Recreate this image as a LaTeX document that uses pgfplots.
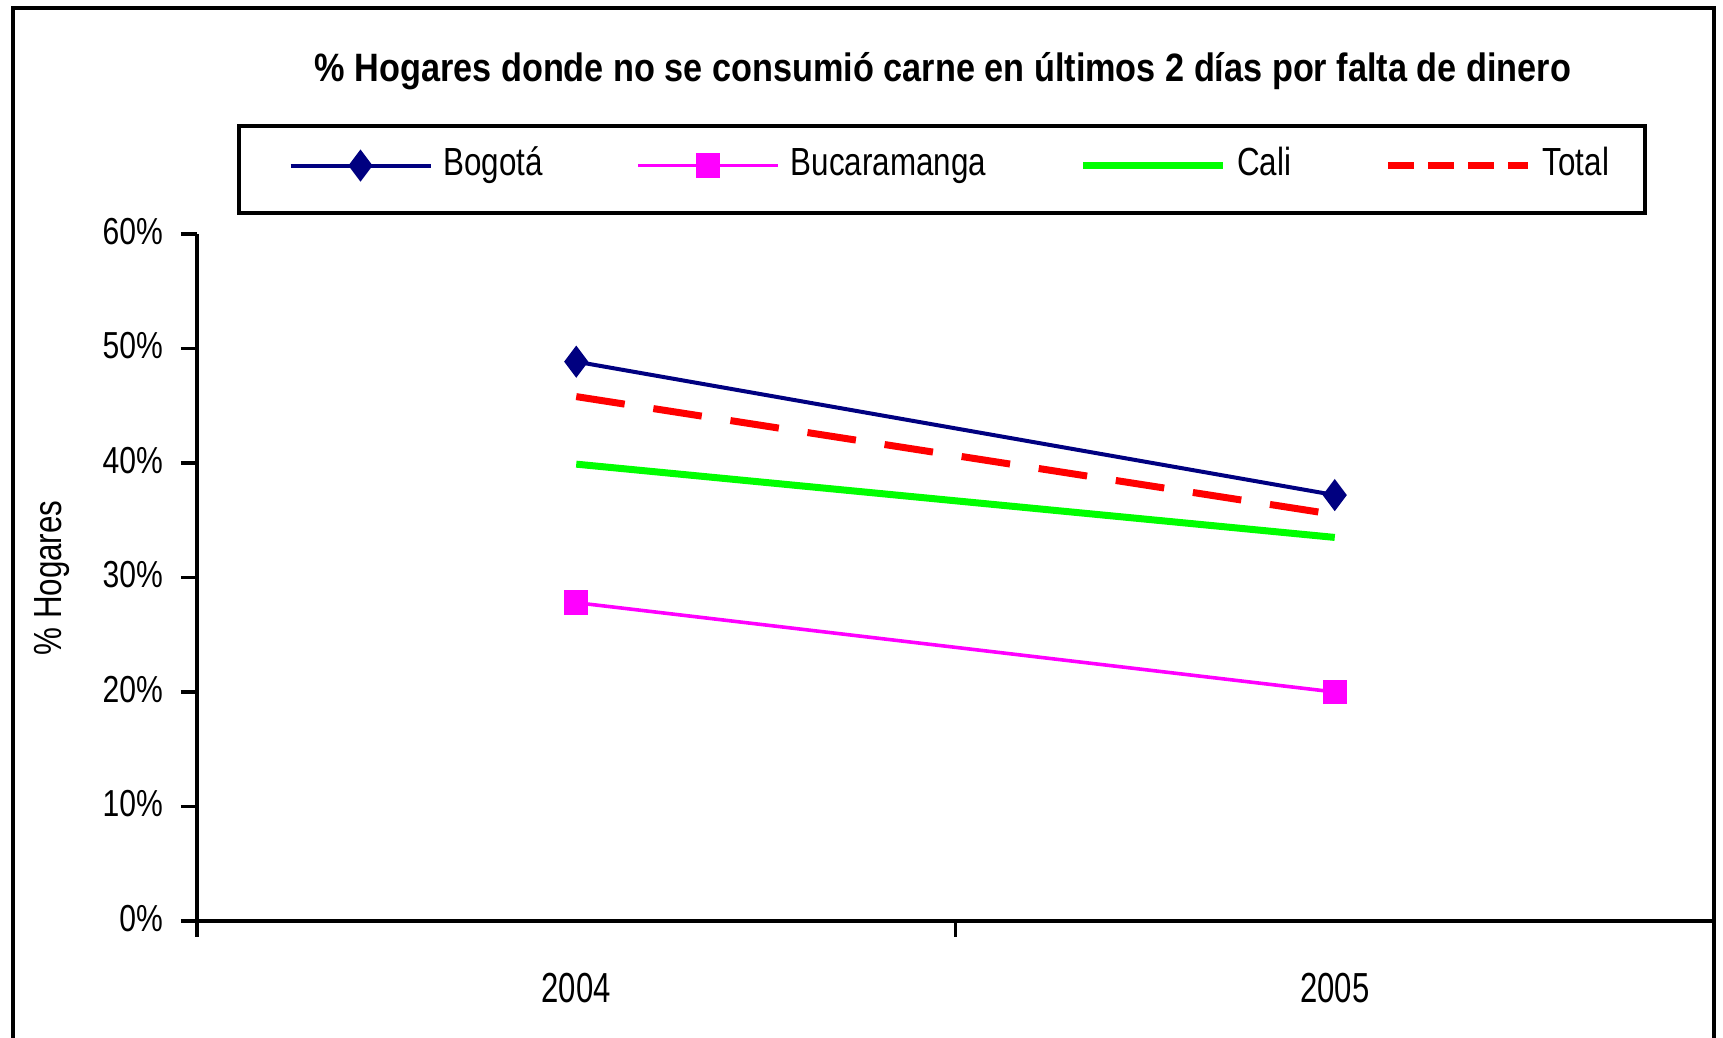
\documentclass[border=0pt]{standalone}
\usepackage{fontspec}
\usepackage{pgfplots}
\pgfplotsset{compat=1.18}
\setmainfont{Liberation Sans}
\newfontfamily\narrow[FakeStretch=0.8]{Liberation Sans}
\newfontfamily\narrowt[FakeStretch=0.865]{Liberation Sans}
\newfontfamily\narrowx[FakeStretch=0.74]{Liberation Sans}
\definecolor{bogota}{HTML}{000080}
\definecolor{buca}{HTML}{FF00FF}
\definecolor{cali}{HTML}{00FF00}
\definecolor{total}{HTML}{FF0000}

\begin{document}
\begin{tikzpicture}
\useasboundingbox (0,0) rectangle (430.75pt,259.5pt);
% chart frame
\draw[line width=0.9pt] (3.25pt,-5pt) -- (3.25pt,257.5pt) -- (428.5pt,257.5pt) -- (428.5pt,-5pt);
\node[anchor=base, font=\narrowt\bfseries\fontsize{9.9}{12}\selectfont] at (235.7pt,239.1pt)
  {\% Hogares donde no se consumió carne en últimos 2 días por falta de dinero};
\node[rotate=90, anchor=base, font=\narrow\fontsize{9.8}{12}\selectfont] at (15.4pt,115pt) {\% Hogares};
\begin{axis}[
  at={(49.25pt,29.25pt)}, anchor=south west,
  scale only axis, width=379.25pt, height=171.75pt,
  xmin=-0.5, xmax=1.5, ymin=0, ymax=60,
  axis x line*=bottom, axis y line*=left,
  axis line style={line width=0.8pt},
  tick style={line width=0.8pt, black},
  tick align=outside, major tick length=4pt,
  xtick={-0.5,0.5,1.5}, xticklabels={},
  extra x ticks={0,1}, extra x tick labels={2004,2005},
  extra x tick style={major tick length=0pt,
    tick label style={font=\narrowx\fontsize{10.5}{12}\selectfont, yshift=-9.6pt}},
  ytick={0,10,...,60}, yticklabels={0\%,10\%,20\%,30\%,40\%,50\%,60\%},
  yticklabel style={font=\narrow\fontsize{9.4}{11}\selectfont, xshift=-1pt, yshift=0.7pt},
  legend columns=4,
  legend style={at={(0.0263,1.160)}, anchor=north west, draw=black, line width=1pt,
    inner xsep=9pt, inner ysep=4.75pt,
    font=\narrow\fontsize{9.8}{12}\selectfont,
    nodes={inner xsep=0pt, inner ysep=0pt, text height=7.5pt, text depth=4.75pt},
    /tikz/every odd column/.append style={column sep=2.7pt},
    /tikz/every even column/.append style={column sep=20pt}},
  legend image code/.code={\path (-3.4pt,1pt);
    \draw[mark repeat=2,mark phase=2,#1]
    plot coordinates {(0pt,1pt) (17.5pt,1pt) (35pt,1pt)};},
]
\addplot[color=bogota, line width=1pt, mark=diamond*, mark size=3.2pt, mark options={solid}]
  coordinates {(0,48.85) (1,37.2)};
\addlegendentry{Bogotá}
\addplot[color=buca, line width=0.9pt, mark=square*, mark size=2.6pt, mark options={solid}]
  coordinates {(0,27.8) (1,20.0)};
\addlegendentry{Bucaramanga}
\addplot[color=cali, line width=1.75pt, no marks]
  coordinates {(0,39.9) (1,33.5)};
\addlegendentry{Cali}
\addplot[color=total, line width=1.75pt, dash pattern=on 12.25pt off 7.25pt, no marks, forget plot]
  coordinates {(0,45.8) (1,35.5)};
\addlegendimage{color=total, line width=1.75pt, dash pattern=on 6.5pt off 3.5pt}
\addlegendentry{Total}
\end{axis}
\end{tikzpicture}
\end{document}
